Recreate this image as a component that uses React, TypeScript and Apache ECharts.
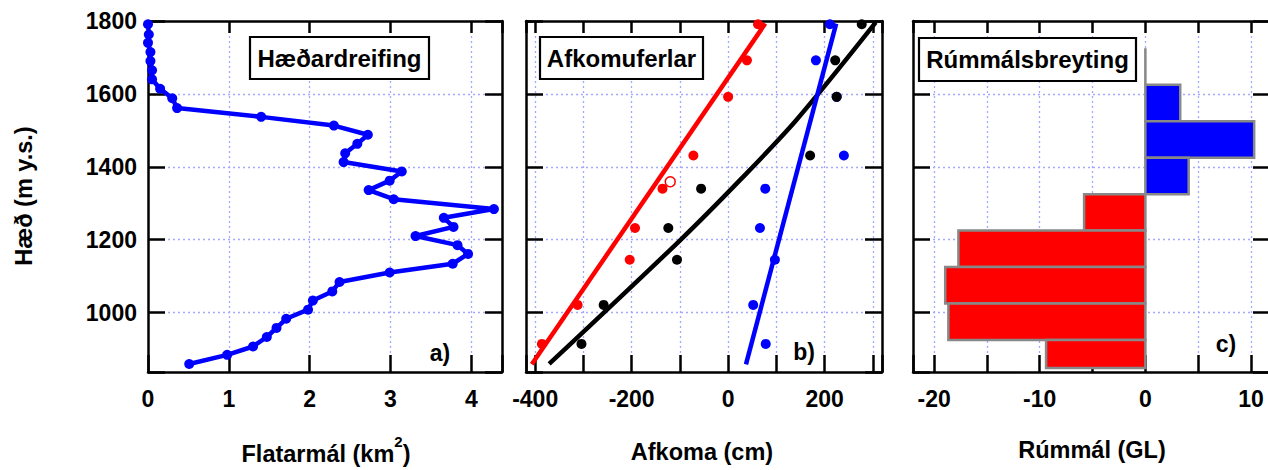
import React, { useEffect, useRef } from 'react';
import * as echarts from 'echarts';

// Shared elevation scale (m a.s.l.)
const elevationMin = 837;
const elevationMax = 1800;

// a) Hypsometry: glacier area per 25 m elevation bin
const hypsoElevation = [1791, 1763, 1740, 1715, 1690, 1665, 1640, 1614, 1588, 1561, 1537, 1513, 1488, 1463, 1437, 1413, 1387, 1362, 1336, 1311, 1284, 1260, 1235, 1210, 1185, 1161, 1134, 1110, 1084, 1058, 1033, 1008, 983, 958, 933, 907, 884, 859];
const hypsoArea = [0.0, 0.01, 0.0, 0.03, 0.03, 0.05, 0.05, 0.15, 0.3, 0.36, 1.4, 2.3, 2.72, 2.59, 2.44, 2.42, 3.14, 2.99, 2.73, 3.04, 4.28, 3.66, 3.78, 3.31, 3.83, 3.96, 3.77, 2.99, 2.37, 2.28, 2.04, 1.98, 1.71, 1.59, 1.47, 1.3, 0.98, 0.51];

// b) Mass balance at stakes (cm w.e.)
const stakeElevation = [1791, 1692, 1592, 1431, 1340, 1232, 1145, 1021, 914];
const winterBalance = [211, 182, 225, 240, 77, 66, 97, 52, 78];
const summerBalance = [62, 39, 0, -72, -136, -193, -204, -312, -386];
const annualBalance = [277, 222, 225, 170, -56, -124, -106, -258, -304];
const summerExcluded = [[-120, 1359]];
const winterFit = [[37, 858], [224, 1793]];
const summerFit = [[-407, 858], [77, 1793]];
const annualFit = [[-371, 859], [-99, 1199], [25, 1364], [142, 1529], [306, 1796]];

// c) Volume change per 100 m elevation band (GL)
const bandTop = [1725, 1625, 1525, 1425, 1325, 1225, 1125, 1025, 925];
const bandBottom = [1625, 1525, 1425, 1325, 1225, 1125, 1025, 925, 848];
const volumeChange = [0, 3.3, 10.3, 4.1, -5.8, -17.7, -18.95, -18.65, -9.4];

// Axis extents and steps per panel
const xRanges = [
  { min: 0, max: 4.38, step: 1, labelStep: 1 },
  { min: -419, max: 319, step: 100, labelStep: 200 },
  { min: -22, max: 11.8, step: 5, labelStep: 10 },
];

const FONT = '"Liberation Sans", Arial, Helvetica, sans-serif';
const BLUE = '#0000ff';
const RED = '#ff0000';
const BLACK = '#000000';
const GRID_COLOR = '#a3a9ff';

const grids = [
  { left: 148, top: 21, width: 354, height: 351 },
  { left: 526, top: 21, width: 356, height: 351 },
  { left: 913, top: 21, width: 357, height: 351 },
];

const frameLine = { show: true, onZero: false, lineStyle: { color: BLACK, width: 2.5 } };
const dottedGrid = {
  show: true,
  showMinLine: false,
  showMaxLine: false,
  lineStyle: { color: GRID_COLOR, width: 1.3, type: [2, 3] },
};
const tickLabel = {
  fontSize: 23,
  fontWeight: 'bold',
  fontFamily: FONT,
  color: BLACK,
};

function isMultiple(v: number, step: number) {
  const r = Math.abs(v / step - Math.round(v / step));
  return r < 1e-6;
}

function buildAxes() {
  const xAxis: any[] = [];
  const yAxis: any[] = [];
  xRanges.forEach((r, i) => {
    const common = {
      type: 'value',
      gridIndex: i,
      min: r.min,
      max: r.max,
      minInterval: r.step,
      maxInterval: r.step,
      splitNumber: Math.round((r.max - r.min) / r.step),
      axisLine: frameLine,
    };
    xAxis.push({
      ...common,
      position: 'bottom',
      axisTick: { show: true, inside: true, length: 17, lineStyle: { color: BLACK, width: 2.5 } },
      axisLabel: {
        ...tickLabel,
        margin: 15,
        formatter: (v: number) => (isMultiple(v, r.labelStep) ? String(Math.round(v)) : ''),
      },
      splitLine: dottedGrid,
    });
    xAxis.push({
      ...common,
      position: 'top',
      axisTick: { show: true, inside: true, length: 12, lineStyle: { color: BLACK, width: 2.5 } },
      axisLabel: { show: false },
      splitLine: { show: false },
    });
    const yCommon = {
      type: 'value',
      gridIndex: i,
      min: elevationMin,
      max: elevationMax,
      minInterval: 200,
      maxInterval: 200,
      splitNumber: 5,
      axisLine: frameLine,
      axisTick: { show: true, inside: true, length: 17, lineStyle: { color: BLACK, width: 2.5 } },
    };
    yAxis.push({
      ...yCommon,
      position: 'left',
      axisLabel:
        i === 0
          ? {
              ...tickLabel,
              margin: 11,
              formatter: (v: number) => (isMultiple(v, 200) ? String(v) : ''),
            }
          : { show: false },
      splitLine: dottedGrid,
    });
    yAxis.push({
      ...yCommon,
      position: 'right',
      axisLabel: { show: false },
      splitLine: { show: false },
    });
  });
  return { xAxis, yAxis };
}

function pairs(xs: number[], ys: number[]) {
  return xs.map((x, i) => [x, ys[i]]);
}

function boxTitle(x: number, y: number, w: number, h: number, text: string) {
  return [
    {
      type: 'rect',
      shape: { x, y, width: w, height: h },
      style: { fill: '#ffffff', stroke: BLACK, lineWidth: 2.2 },
      z: 50,
    },
    {
      type: 'text',
      x: x + w / 2,
      y: y + h / 2,
      style: {
        text,
        fontSize: 24,
        fontWeight: 'bold',
        fontFamily: FONT,
        fill: BLACK,
        align: 'center',
        verticalAlign: 'middle',
        textAlign: 'center',
        textVerticalAlign: 'middle',
      },
      z: 51,
    },
  ];
}

function plainText(x: number, y: number, text: string, size: number, rotation = 0) {
  return {
    type: 'text',
    x,
    y,
    rotation,
    style: {
      text,
      fontSize: size,
      fontWeight: 'bold',
      fontFamily: FONT,
      fill: BLACK,
      align: 'center',
      verticalAlign: 'middle',
      textAlign: 'center',
      textVerticalAlign: 'middle',
    },
    z: 51,
  };
}

export default function App() {
  const ref = useRef<HTMLDivElement>(null);

  useEffect(() => {
    if (!ref.current) return;
    const chart = echarts.init(ref.current, undefined, { renderer: 'svg' });
    const { xAxis, yAxis } = buildAxes();

    const option: any = {
      animation: false,
      backgroundColor: '#ffffff',
      grid: grids.map((g) => ({ ...g, outerBoundsMode: 'none', containLabel: false })),
      xAxis,
      yAxis,
      series: [
        // a) hypsometry
        {
          type: 'line',
          xAxisIndex: 0,
          yAxisIndex: 0,
          data: pairs(hypsoArea, hypsoElevation),
          lineStyle: { color: BLUE, width: 4.5 },
          itemStyle: { color: BLUE },
          symbol: 'circle',
          symbolSize: 10,
          showAllSymbol: true,
          z: 3,
        },
        // b) fitted balance profiles
        {
          type: 'line',
          xAxisIndex: 2,
          yAxisIndex: 2,
          data: annualFit,
          smooth: 0.3,
          symbol: 'none',
          lineStyle: { color: BLACK, width: 4.5 },
          z: 2,
        },
        {
          type: 'line',
          xAxisIndex: 2,
          yAxisIndex: 2,
          data: winterFit,
          symbol: 'none',
          lineStyle: { color: BLUE, width: 4.5 },
          z: 2,
        },
        {
          type: 'line',
          xAxisIndex: 2,
          yAxisIndex: 2,
          data: summerFit,
          symbol: 'none',
          lineStyle: { color: RED, width: 4.5 },
          z: 2,
        },
        // b) stake measurements
        {
          type: 'scatter',
          xAxisIndex: 2,
          yAxisIndex: 2,
          data: pairs(winterBalance, stakeElevation),
          symbol: 'circle',
          symbolSize: 10,
          itemStyle: { color: BLUE, opacity: 1 },
          z: 4,
        },
        {
          type: 'scatter',
          xAxisIndex: 2,
          yAxisIndex: 2,
          data: pairs(annualBalance, stakeElevation),
          symbol: 'circle',
          symbolSize: 10,
          itemStyle: { color: BLACK, opacity: 1 },
          z: 4,
        },
        {
          type: 'scatter',
          xAxisIndex: 2,
          yAxisIndex: 2,
          data: pairs(summerBalance, stakeElevation),
          symbol: 'circle',
          symbolSize: 10,
          itemStyle: { color: RED, opacity: 1 },
          z: 4,
        },
        {
          type: 'scatter',
          xAxisIndex: 2,
          yAxisIndex: 2,
          data: summerExcluded,
          symbol: 'circle',
          symbolSize: 10,
          itemStyle: { color: 'rgba(255,255,255,0)', borderColor: RED, borderWidth: 1.5, opacity: 1 },
          z: 4,
        },
        // c) volume change bars spanning each elevation band
        {
          type: 'custom',
          xAxisIndex: 4,
          yAxisIndex: 4,
          clip: true,
          encode: { x: 0, y: [1, 2] },
          data: volumeChange.map((v, i) => [v, bandTop[i], bandBottom[i]]),
          renderItem: (_params: any, api: any) => {
            const v = api.value(0) as number;
            const p0 = api.coord([0, api.value(1)]);
            const p1 = api.coord([v, api.value(2)]);
            return {
              type: 'rect',
              shape: {
                x: Math.min(p0[0], p1[0]),
                y: p0[1],
                width: Math.abs(p1[0] - p0[0]),
                height: p1[1] - p0[1],
              },
              style: { fill: v >= 0 ? BLUE : RED, stroke: '#888888', lineWidth: 2.5 },
            };
          },
          z: 3,
        },
      ],
      graphic: [
        ...boxTitle(250, 37, 179, 42, 'Hæðardreifing'),
        ...boxTitle(540, 37, 163, 42, 'Afkomuferlar'),
        ...boxTitle(919, 38, 217, 43, 'Rúmmálsbreyting'),
        plainText(440, 353, 'a)', 23),
        plainText(804, 352, 'b)', 23),
        plainText(1226, 344, 'c)', 23),
        plainText(24, 196, 'Hæð (m y.s.)', 23.5, Math.PI / 2),
        {
          type: 'text',
          x: 326,
          y: 450,
          style: {
            text: '{a|Flatarmál (km}{s|2}{a|)}',
            fontFamily: FONT,
            fontWeight: 'bold',
            fill: BLACK,
            align: 'center',
            verticalAlign: 'middle',
            textAlign: 'center',
            textVerticalAlign: 'middle',
            rich: {
              a: { fontSize: 23.5, fontWeight: 'bold', fontFamily: FONT, fill: BLACK, lineHeight: 32, verticalAlign: 'bottom' },
              s: { fontSize: 15, fontWeight: 'bold', fontFamily: FONT, fill: BLACK, lineHeight: 15, verticalAlign: 'top' },
            },
          },
          z: 51,
        },
        plainText(702, 452, 'Afkoma (cm)', 23.5),
        plainText(1092, 450, 'Rúmmál (GL)', 23.5),
      ],
    };

    chart.setOption(option);
    return () => chart.dispose();
  }, []);

  return (
    <div
      ref={ref}
      style={{ position: 'absolute', left: 0, top: 0, width: 1268, height: 470, background: '#fff' }}
    />
  );
}
